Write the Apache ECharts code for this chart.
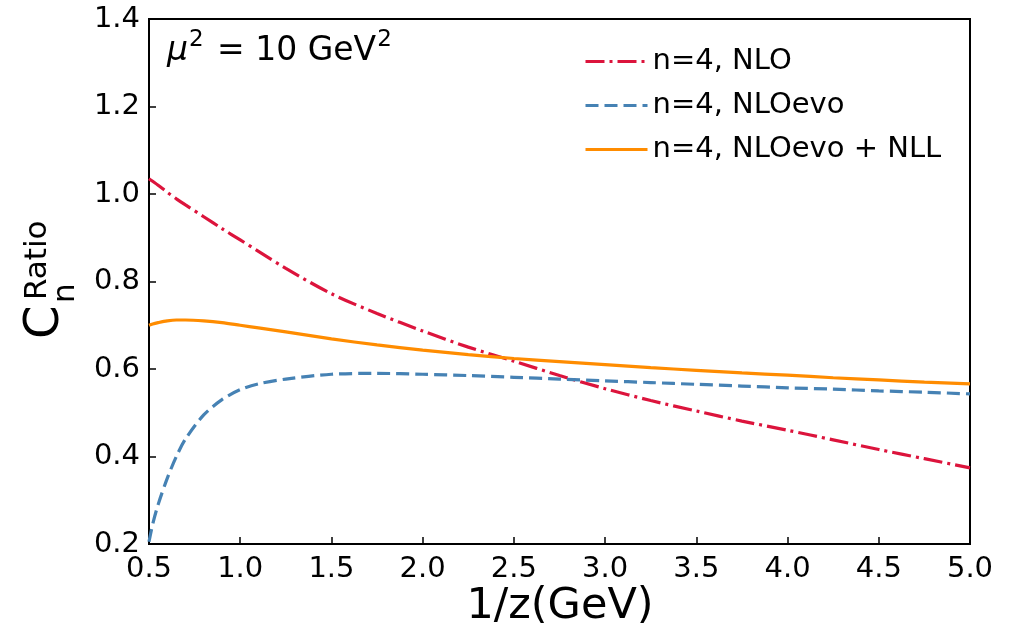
<!DOCTYPE html>
<html>
<head>
<meta charset="utf-8">
<script src="https://cdn.jsdelivr.net/npm/echarts@6/dist/echarts.min.js"></script>
<style>
  html, body { margin: 0; padding: 0; background: #fff; }
  #chart { width: 1021px; height: 635px; }
</style>
</head>
<body>
<div id="chart"></div>
<script>
const xs = [0.5, 0.52, 0.55, 0.6, 0.65, 0.7, 0.8, 0.9, 1.0, 1.1, 1.25, 1.5, 1.75, 2.0, 2.25, 2.5, 2.75, 3.0, 3.25, 3.5, 3.75, 4.0, 4.25, 4.5, 4.75, 5.0];
const nloVals = [1.035, 1.029, 1.020, 1.004, 0.989, 0.975, 0.948, 0.921, 0.895, 0.869, 0.830, 0.772, 0.727, 0.687, 0.650, 0.618, 0.585, 0.555, 0.528, 0.504, 0.481, 0.460, 0.438, 0.416, 0.395, 0.374];
const evoVals = [0.205, 0.245, 0.290, 0.350, 0.400, 0.440, 0.495, 0.530, 0.553, 0.566, 0.577, 0.588, 0.590, 0.588, 0.585, 0.581, 0.577, 0.573, 0.569, 0.565, 0.561, 0.557, 0.554, 0.550, 0.547, 0.543];
const nllVals = [0.700, 0.703, 0.706, 0.710, 0.712, 0.712, 0.710, 0.706, 0.700, 0.694, 0.685, 0.669, 0.655, 0.643, 0.633, 0.624, 0.617, 0.610, 0.603, 0.597, 0.591, 0.586, 0.580, 0.575, 0.570, 0.566];
const seriesNames = ['n=4, NLO', 'n=4, NLOevo', 'n=4, NLOevo + NLL'];

const FONT = 'DejaVu Sans';
const pairs = vals => xs.map((x, i) => [x, vals[i]]);

// measure text so the annotation pieces line up
const ctx = document.createElement('canvas').getContext('2d');
function textW(str, size, style) {
  ctx.font = (style || '') + ' ' + size + 'px "' + FONT + '"';
  return ctx.measureText(str).width;
}

const chart = echarts.init(document.getElementById('chart'));

// mu^2 = 10 GeV^2
const muX = 167, muBase = 63, big = 33, small = 23;
const muW = textW('μ', big, 'italic');
const eqX = muX + muW + textW('2', small) + 4;
const eqStr = ' = 10 GeV';
const eqW = textW(eqStr, big);
const mid = (base, size) => base - 0.35 * size;

const axisTxt = { fontFamily: FONT, fontSize: 29, color: '#000' };

chart.setOption({
  animation: false,
  grid: { left: 149, right: 51, top: 19, bottom: 91, show: true, borderColor: '#000', borderWidth: 2, backgroundColor: 'transparent' },
  xAxis: {
    type: 'value', min: 0.5, max: 5.0, interval: 0.5,
    axisLine: { show: true, lineStyle: { color: '#000', width: 2 } },
    axisTick: { show: true, inside: true, length: 7, lineStyle: { color: '#000', width: 1.5 } },
    axisLabel: Object.assign({ margin: 11, formatter: v => v.toFixed(1) }, axisTxt),
    splitLine: { show: false }
  },
  yAxis: {
    type: 'value', min: 0.2, max: 1.4, interval: 0.2,
    axisLine: { show: true, lineStyle: { color: '#000', width: 2 } },
    axisTick: { show: true, inside: true, length: 7, lineStyle: { color: '#000', width: 1.5 } },
    axisLabel: Object.assign({ margin: 9, formatter: v => v.toFixed(1) }, axisTxt),
    splitLine: { show: false }
  },
  legend: {
    orient: 'vertical', left: 579, top: 42,
    itemWidth: 62, itemHeight: 14, itemGap: 15,
    itemStyle: { opacity: 0 },
    lineStyle: { width: 3 },
    textStyle: { fontFamily: FONT, fontSize: 29, color: '#000', padding: [0, 0, 0, 0] },
    data: seriesNames
  },
  series: [
    {
      name: seriesNames[0], type: 'line', data: pairs(nloVals), smooth: 0.3,
      symbol: 'none', showSymbol: false, color: '#DC143C',
      lineStyle: { color: '#DC143C', width: 3.2, type: [19, 5, 3, 5] }
    },
    {
      name: seriesNames[1], type: 'line', data: pairs(evoVals), smooth: 0.3,
      symbol: 'none', showSymbol: false, color: '#4682B4',
      lineStyle: { color: '#4682B4', width: 3.2, type: [13, 6] }
    },
    {
      name: seriesNames[2], type: 'line', data: pairs(nllVals), smooth: 0.3,
      symbol: 'none', showSymbol: false, color: '#FF8C00',
      lineStyle: { color: '#FF8C00', width: 3.2, type: 'solid' }
    }
  ],
  graphic: [
    { type: 'text', x: 560, y: mid(622, 43), style: { text: '1/z(GeV)', font: '43px "' + FONT + '"', fill: '#000', align: 'center', verticalAlign: 'middle' } },
    { type: 'text', x: muX, y: mid(muBase, big), style: { text: 'μ', font: 'italic ' + big + 'px "' + FONT + '"', fill: '#000', verticalAlign: 'middle' } },
    { type: 'text', x: muX + muW + 1, y: mid(muBase - 15, small), style: { text: '2', font: small + 'px "' + FONT + '"', fill: '#000', verticalAlign: 'middle' } },
    { type: 'text', x: eqX, y: mid(muBase, big), style: { text: eqStr, font: big + 'px "' + FONT + '"', fill: '#000', verticalAlign: 'middle' } },
    { type: 'text', x: eqX + eqW + 1, y: mid(muBase - 15, small), style: { text: '2', font: small + 'px "' + FONT + '"', fill: '#000', verticalAlign: 'middle' } },
    {
      type: 'group', x: 62, y: 339, rotation: Math.PI / 2,
      children: [
        { type: 'text', x: 0, y: mid(0, 48), style: { text: 'C', font: '48px "' + FONT + '"', fill: '#000', verticalAlign: 'middle' } },
        { type: 'text', x: 39, y: mid(-13, 31), style: { text: 'Ratio', font: '31px "' + FONT + '"', fill: '#000', verticalAlign: 'middle' } },
        { type: 'text', x: 36, y: mid(15, 31), style: { text: 'n', font: '31px "' + FONT + '"', fill: '#000', verticalAlign: 'middle' } }
      ]
    }
  ]
});
</script>
</body>
</html>
